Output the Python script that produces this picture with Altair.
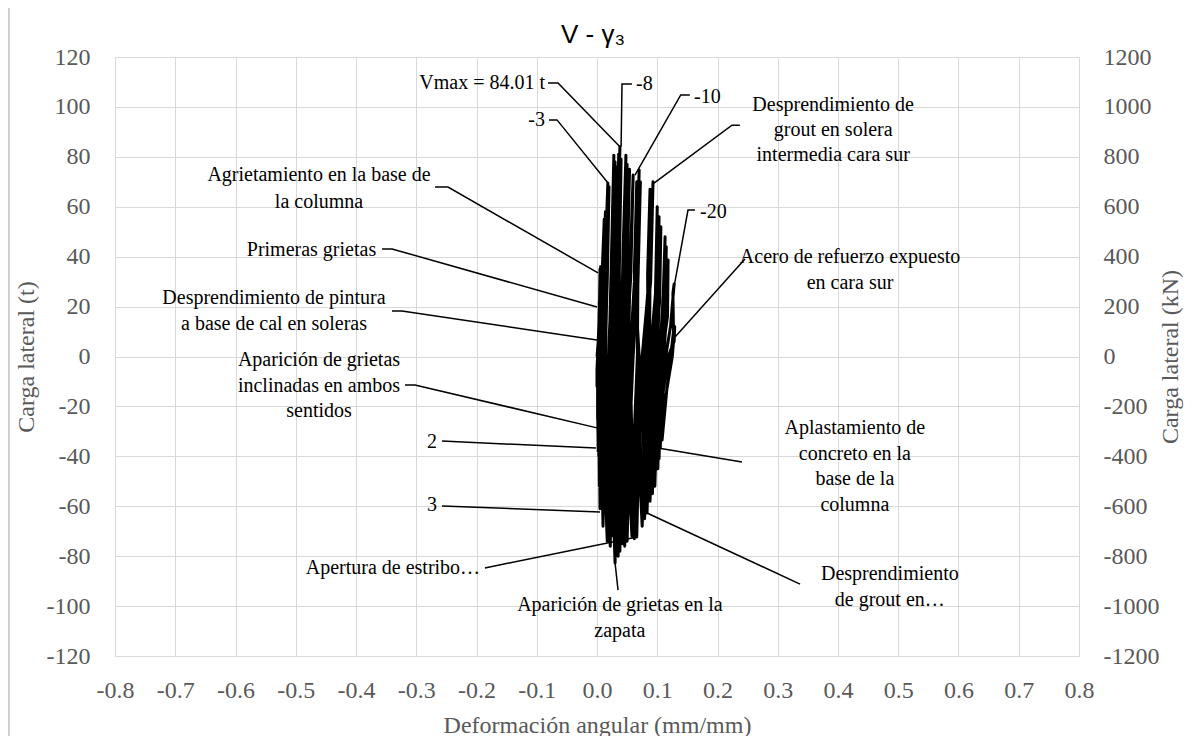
import altair as alt
import pandas as pd

# ---------------- data ----------------
# hysteresis cycles: deformación angular (mm/mm) and carga lateral (t)
cycle_gamma = [
    [0.000, 0.002, 0.003, 0.002, 0.001, 0.000, 0.000, 0.000, 0.001],
    [0.003, 0.004, 0.003, 0.002, 0.001, 0.001, 0.001, 0.002],
    [0.004, 0.005, 0.004, 0.002, 0.001, 0.002, 0.002, 0.003],
    [0.005, 0.006, 0.005, 0.003, 0.002, 0.003, 0.003, 0.004],
    [0.008, 0.012, 0.009, 0.005, 0.003, 0.004, 0.005, 0.007],
    [0.010, 0.014, 0.011, 0.006, 0.004, 0.005, 0.007, 0.009],
    [0.011, 0.015, 0.012, 0.007, 0.005, 0.006, 0.008, 0.010],
    [0.013, 0.018, 0.015, 0.010, 0.007, 0.010, 0.012, 0.014],
    [0.017, 0.020, 0.017, 0.013, 0.011, 0.017, 0.018, 0.020],
    [0.024, 0.028, 0.025, 0.019, 0.016, 0.022, 0.024, 0.026],
    [0.027, 0.030, 0.027, 0.022, 0.019, 0.025, 0.027, 0.029],
    [0.029, 0.032, 0.029, 0.024, 0.021, 0.027, 0.029, 0.031],
    [0.033, 0.038, 0.035, 0.029, 0.024, 0.030, 0.032, 0.035],
    [0.034, 0.036, 0.033, 0.028, 0.027, 0.033, 0.035, 0.038],
    [0.037, 0.040, 0.037, 0.031, 0.028, 0.035, 0.037, 0.040],
    [0.043, 0.048, 0.045, 0.037, 0.032, 0.038, 0.041, 0.045],
    [0.046, 0.050, 0.047, 0.040, 0.036, 0.042, 0.046, 0.050],
    [0.050, 0.054, 0.050, 0.043, 0.039, 0.046, 0.049, 0.052],
    [0.055, 0.060, 0.056, 0.048, 0.043, 0.050, 0.054, 0.058],
    [0.065, 0.070, 0.066, 0.056, 0.050, 0.058, 0.062, 0.067],
    [0.068, 0.072, 0.068, 0.060, 0.054, 0.062, 0.066, 0.070],
    [0.062, 0.066, 0.062, 0.055, 0.058, 0.066, 0.070, 0.075],
    [0.088, 0.093, 0.089, 0.078, 0.068, 0.075, 0.080, 0.085],
    [0.084, 0.088, 0.085, 0.076, 0.071, 0.079, 0.083, 0.087],
    [0.088, 0.090, 0.087, 0.080, 0.076, 0.083, 0.088, 0.092],
    [0.098, 0.100, 0.097, 0.088, 0.082, 0.088, 0.093, 0.098],
    [0.100, 0.103, 0.101, 0.092, 0.086, 0.092, 0.096, 0.100],
    [0.104, 0.106, 0.104, 0.095, 0.090, 0.096, 0.100, 0.104],
    [0.110, 0.113, 0.111, 0.102, 0.097, 0.101, 0.104, 0.109],
    [0.112, 0.115, 0.113, 0.105, 0.099, 0.103, 0.106, 0.111],
    [0.116, 0.118, 0.117, 0.108, 0.101, 0.105, 0.108, 0.114],
    [0.122, 0.128, 0.126, 0.127, 0.116, 0.108, 0.110, 0.118],
    [0.128, 0.129, 0.125, 0.116, 0.110],
]
cycle_load = [
    [0, 6, 12, 5, 0, -6, -12, -5, 0],
    [11, 22, 10, 0, -12, -25, -11, 0],
    [18, 35, 16, 0, -20, -38, -18, 0],
    [20, 36, 15, 0, -20, -40, -18, 0],
    [30, 55, 25, 0, -25, -52, -22, 0],
    [30, 58, 25, 0, -30, -61, -25, 0],
    [28, 56, 24, 0, -28, -58, -24, 0],
    [35, 69.5, 30, 0, -33, -68, -30, 0],
    [35, 68, 30, 0, -35, -74, -33, 0],
    [40, 80.6, 35, 0, -38, -76, -35, 0],
    [40, 78, 33, 0, -35, -70, -32, 0],
    [38, 76, 32, 0, -34, -72, -31, 0],
    [42, 84.01, 38, 0, -40, -82.7, -38, 0],
    [40, 81, 36, 0, -38, -78, -36, 0],
    [38, 79, 34, 0, -37, -80, -35, 0],
    [40, 80.6, 36, 0, -38, -78, -35, 0],
    [38, 77, 34, 0, -36, -75, -33, 0],
    [36, 75, 32, 0, -35, -76, -32, 0],
    [36, 72.7, 32, 0, -35, -74, -32, 0],
    [36, 74.7, 32, 0, -34, -72, -30, 0],
    [34, 70, 30, 0, -33, -73, -30, 0],
    [34, 70, 30, 0, -34, -72.3, -30, 0],
    [35, 70, 30, 0, -33, -68, -28, 0],
    [33, 67, 28, 0, -31, -65, -27, 0],
    [32, 65, 28, 0, -30, -62.7, -26, 0],
    [30, 60, 25, 0, -28, -58, -24, 0],
    [28, 56, 23, 0, -26, -55, -22, 0],
    [28, 52, 22, 0, -25, -52, -20, 0],
    [25, 48, 20, 0, -22, -45, -18, 0],
    [22, 44, 18, 0, -20, -41, -16, 0],
    [20, 38.7, 16, 0, -18, -36.7, -15, 0],
    [12, 29, 25.4, 10, -13, -33.5, -14, 0],
    [6, 12, 0, -13, -25],
]

x_ticks = [-0.8, -0.7, -0.6, -0.5, -0.4, -0.3, -0.2, -0.1, 0, 0.1, 0.2, 0.3, 0.4, 0.5, 0.6, 0.7, 0.8]
y_ticks = [-120, -100, -80, -60, -40, -20, 0, 20, 40, 60, 80, 100, 120]
kn_ticks = [-1200, -1000, -800, -600, -400, -200, 0, 200, 400, 600, 800, 1000, 1200]

chart_title = ["V - γ₃"]

# annotation texts (one row per text line)
label_text = [
    "Vmax = 84.01 t", "-8", "-10",
    "Desprendimiento de", "grout en solera", "intermedia cara sur",
    "-3", "Agrietamiento en la base de", "la columna",
    "Primeras grietas", "Desprendimiento de pintura", "a base de cal en soleras",
    "Aparición de grietas", "inclinadas en ambos", "sentidos",
    "2", "3", "Apertura de estribo…",
    "Aparición de grietas en la", "zapata",
    "Aplastamiento de", "concreto en la", "base de la", "columna",
    "Desprendimiento", "de grout en…",
    "Acero de refuerzo expuesto", "en cara sur", "-20",
]
label_x = [
    -0.0863, 0.0647, 0.161,
    0.392, 0.392, 0.392,
    -0.0863, -0.4614, -0.4614,
    -0.4739, -0.5361, -0.5361,
    -0.4614, -0.4614, -0.4614,
    -0.2739, -0.2739, -0.194,
    0.038, 0.038,
    0.428, 0.428, 0.428, 0.428,
    0.486, 0.486,
    0.42, 0.42, 0.171,
]
label_y = [
    109.6, 109.2, 104.0,
    100.8, 90.7, 80.7,
    94.8, 72.7, 61.9,
    42.7, 23.4, 13.0,
    -1.4, -11.8, -21.8,
    -34.3, -59.5, -84.7,
    -99.6, -110.0,
    -28.6, -38.9, -49.1, -59.3,
    -87.1, -97.6,
    39.9, 29.4, 57.9,
]
label_align = [
    "right", "left", "left",
    "center", "center", "center",
    "right", "center", "center",
    "center", "center", "center",
    "center", "center", "center",
    "center", "center", "right",
    "center", "center",
    "center", "center", "center", "center",
    "center", "center",
    "center", "center", "left",
]

# leader lines (id, point sequence)
leader_id = [1, 1, 1, 2, 2, 2, 3, 3, 3, 4, 4, 4, 5, 5, 5, 6, 6, 6, 7, 7, 7, 8, 8, 8,
             9, 9, 9, 10, 10, 11, 11, 12, 12, 13, 13, 14, 14, 15, 15, 16, 16, 17, 17, 17]
leader_x = [-0.0813, -0.0647, 0.038,
            0.058, 0.0415, 0.040,
            0.154, 0.139, 0.063,
            0.237, 0.224, 0.0946,
            -0.0797, -0.0664, 0.0183,
            -0.2689, -0.2473, 0.0017,
            -0.3568, -0.3402, 0.0,
            -0.3402, -0.3237, 0.0,
            -0.3187, -0.3021, 0.0,
            -0.2573, -0.0017,
            -0.2573, 0.005,
            -0.186, 0.0664,
            0.0349, 0.030,
            0.2407, 0.101,
            0.337, 0.083,
            0.2456, 0.1295,
            0.1627, 0.151, 0.126]
leader_y = [109.6, 109.6, 84.0,
            109.2, 109.2, 84.0,
            104.8, 104.8, 72.7,
            92.7, 92.7, 69.5,
            94.8, 94.8, 69.5,
            67.9, 67.9, 33.5,
            43.1, 43.1, 19.8,
            18.2, 18.2, 6.6,
            -11.4, -11.4, -28.6,
            -33.9, -36.7,
            -59.9, -62.3,
            -84.7, -72.3,
            -93.6, -82.7,
            -42.3, -36.7,
            -91.2, -62.7,
            39.1, 7.8,
            58.7, 58.7, 25.4]

# ---------------- tables ----------------
rows = []
k = 0
for gl, ll in zip(cycle_gamma, cycle_load):
    for g, v in zip(gl, ll):
        rows.append({"g": g, "v": v, "k": k})
        k += 1
loops = pd.DataFrame(rows)
labels = pd.DataFrame({"g": label_x, "v": label_y, "t": label_text, "a": label_align})
leaders = pd.DataFrame({"g": leader_x, "v": leader_y, "id": leader_id,
                        "k": list(range(len(leader_x)))})
right_df = pd.DataFrame({"kn": [-1200, 1200]})
title_df = pd.DataFrame({"t": chart_title})

SERIF = "Liberation Serif"
GRAY = "#595959"
MINUS_FIX = "replace(datum.label, '\u2212', '-')"


def xs():
    return alt.Scale(domain=[-0.8, 0.8], nice=False, zero=False)


def ys():
    return alt.Scale(domain=[-120, 120], nice=False, zero=False)


x_axis = alt.Axis(orient="bottom", values=x_ticks, title="Deformación angular (mm/mm)", grid=True,
                  gridColor="#d9d9d9", gridWidth=1, domain=False, ticks=False,
                  labelFont=SERIF, labelFontSize=24, labelColor=GRAY, labelPadding=22,
                  labelExpr=MINUS_FIX, labelFlush=False, labelOverlap=False,
                  titleFont=SERIF, titleFontSize=24, titleColor=GRAY,
                  titleFontWeight="normal", titlePadding=11)
y_axis = alt.Axis(orient="left", values=y_ticks, title="Carga lateral (t)", grid=True,
                  gridColor="#d9d9d9", gridWidth=1, domain=False, ticks=False,
                  labelFont=SERIF, labelFontSize=24, labelColor=GRAY, labelPadding=25,
                  labelExpr=MINUS_FIX, labelFlush=False, labelOverlap=False, format="d",
                  titleFont=SERIF, titleFontSize=24, titleColor=GRAY,
                  titleFontWeight="normal", titlePadding=8)

loop_layer = alt.Chart(loops).mark_line(color="black", strokeWidth=3, strokeJoin="round").encode(
    x=alt.X("g:Q", scale=xs(), axis=x_axis),
    y=alt.Y("v:Q", scale=ys(), axis=y_axis),
    order="k:O",
)

leader_layer = alt.Chart(leaders).mark_line(color="black", strokeWidth=1.5).encode(
    x=alt.X("g:Q", scale=xs(), axis=None),
    y=alt.Y("v:Q", scale=ys(), axis=None),
    detail="id:N",
    order="k:O",
)

text_layers = []
for al in ["left", "center", "right"]:
    text_layers.append(
        alt.Chart(labels).transform_filter(alt.datum.a == al).mark_text(
            font=SERIF, fontSize=20, color="black", align=al, baseline="middle"
        ).encode(
            x=alt.X("g:Q", scale=xs(), axis=None),
            y=alt.Y("v:Q", scale=ys(), axis=None),
            text="t:N",
        )
    )

title_layer = alt.Chart(title_df).mark_text(
    font="Liberation Sans", fontSize=26, color="black", align="center", baseline="alphabetic"
).encode(x=alt.value(478), y=alt.value(-14), text="t:N")

frame_layer = alt.Chart(right_df).mark_rule(color="#c0c0c0", strokeWidth=1).encode(
    x=alt.value(-106), y=alt.value(-49), y2=alt.value(690)
)

right_layer = alt.Chart(right_df).mark_point(opacity=0).encode(
    y=alt.Y("kn:Q", scale=alt.Scale(domain=[-1200, 1200], nice=False, zero=False),
            axis=alt.Axis(orient="right", values=kn_ticks, title="Carga lateral (kN)",
                          grid=False, domain=False, ticks=False, format="d",
                          labelFont=SERIF, labelFontSize=24, labelColor=GRAY,
                          labelPadding=24, labelExpr=MINUS_FIX, labelFlush=False,
                          labelOverlap=False, labelAlign="left",
                          titleFont=SERIF, titleFontSize=24, titleColor=GRAY,
                          titleFontWeight="normal", titlePadding=24, titleAngle=270)),
)

chart = alt.layer(
    loop_layer, leader_layer, *text_layers, title_layer, frame_layer, right_layer
).resolve_scale(x="independent", y="independent").properties(
    width=964, height=599,
    padding={"left": 107, "top": 49, "right": 111, "bottom": 80},
    autosize=alt.AutoSizeParams(type="none"),
).configure_view(stroke=None).configure_axis(
    labelFont=SERIF, titleFont=SERIF
)

chart.save("out.html", embed_options={"renderer": "svg", "actions": False})
